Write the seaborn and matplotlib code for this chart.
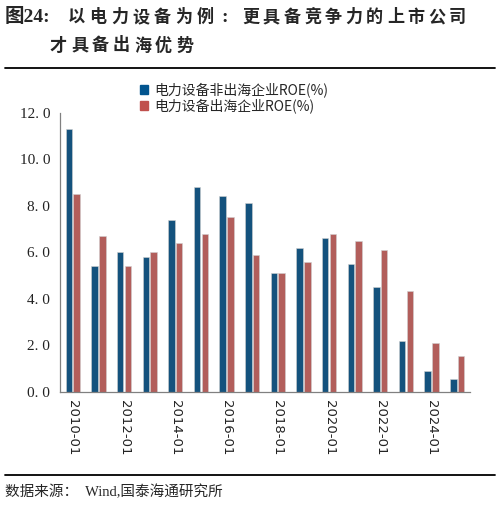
import numpy as np
import pandas as pd
import matplotlib
matplotlib.use("Agg")
import matplotlib.pyplot as plt
import seaborn as sns
from matplotlib.lines import Line2D

# ROE of listed power-equipment companies, by year
periods = [f"{y}-01" for y in range(2010, 2026)]
roe_domestic = [11.3, 5.4, 6.0, 5.8, 7.4, 8.8, 8.4, 8.1, 5.1, 6.2, 6.6, 5.5, 4.5, 2.2, 0.9, 0.55]
roe_overseas = [8.5, 6.7, 5.4, 6.0, 6.4, 6.8, 7.5, 5.9, 5.1, 5.6, 6.8, 6.5, 6.1, 4.35, 2.1, 1.55]
series_names = ["电力设备非出海企业ROE(%)", "电力设备出海企业ROE(%)"]
yticks = [0, 2, 4, 6, 8, 10, 12]

BLUE = "#02558F"
RED = "#C0504D"
GREY = "#808080"
SERIF = ["Liberation Serif", "Noto Sans CJK SC"]
CJK = ["Noto Sans CJK SC", "DejaVu Sans"]
W, H = 500, 505

sns.set_theme(style="white")
plt.rcParams["font.family"] = CJK

df = pd.DataFrame({
    "period": periods * 2,
    "roe": roe_domestic + roe_overseas,
    "series": [series_names[0]] * len(periods) + [series_names[1]] * len(periods),
})

fig = plt.figure(figsize=(W / 100, H / 100), dpi=100)
ax = fig.add_axes([0.12, 0.2238, 0.82, 0.553])

sns.barplot(data=df, x="period", y="roe", hue="series", order=periods,
            hue_order=series_names, palette=[BLUE, RED], width=0.6, gap=0.15,
            edgecolor="#d0d0d0", linewidth=0.4, ax=ax, legend=False)

ax.set_xlim(-0.5, len(periods) - 0.5)
ax.set_ylim(0, 12)
ax.set_yticks(yticks)
ax.set_yticklabels([f"{v:.1f}".replace(".", ". ") for v in yticks],
                   family=SERIF, fontsize=11, color="#222222")
ax.set_xticks(range(0, len(periods), 2))
ax.set_xticklabels(periods[::2], rotation=270, fontsize=9.5, family="DejaVu Sans",
                   color="#222222")
ax.set_xticks(np.arange(-0.5, len(periods), 2), minor=True)
ax.tick_params(axis="x", which="major", length=0, pad=6)
ax.tick_params(axis="x", which="minor", length=4, color=GREY, width=0.8, direction="out")
ax.tick_params(axis="y", length=4, color=GREY, width=0.8, direction="out", pad=3)
ax.set_xlabel("")
ax.set_ylabel("")
for side in ["top", "right"]:
    ax.spines[side].set_visible(False)
for side in ["left", "bottom"]:
    ax.spines[side].set_color(GREY)
    ax.spines[side].set_linewidth(0.9)

handles = [plt.Rectangle((0, 0), 1, 1, color=c) for c in (BLUE, RED)]
fig.legend(handles, series_names, loc="upper center", bbox_to_anchor=(0.468, 0.862),
           frameon=False, fontsize=10, handlelength=0.6, handleheight=0.6,
           handletextpad=0.4, labelspacing=0.1)


def spaced(text, x0, y, pitch):
    # title glyphs are set with wide, even letter spacing
    for i, ch in enumerate(text):
        fig.text((x0 + i * pitch) / W, 1 - y / H, ch, fontsize=12.3,
                 fontweight="bold", va="center")


# title, rules and source
fig.text(0.01, 1 - 17 / H, "图24:", family=SERIF, fontsize=14, fontweight="bold", va="center")
spaced("以电力设备为例", 68, 17, 21.4)
fig.text(221 / W, 1 - 17 / H, ":", family=SERIF, fontsize=14, fontweight="bold", va="center")
spaced("更具备竞争力的上市公司", 242, 17, 20.7)
spaced("才具备出海优势", 50, 45.5, 21)
fig.add_artist(Line2D([0.01, 0.99], [1 - 68 / H] * 2, color="black", lw=1.3))
fig.add_artist(Line2D([0.01, 0.99], [1 - 475 / H] * 2, color="black", lw=1.3))
fig.text(0.01, 1 - 492 / H, "数据来源：  Wind,国泰海通研究所", family=SERIF,
         fontsize=10.5, va="center")

fig.savefig("out.png", dpi=100)
